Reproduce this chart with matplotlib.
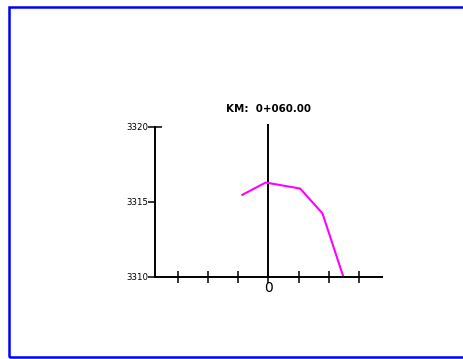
import matplotlib
matplotlib.use("Agg")
import matplotlib.pyplot as plt
from matplotlib.patches import Rectangle

# Section data (offset in m, elevation in m)
offsets = [-8.6, -0.9, 10.5, 17.9, 24.8]
elevations = [3315.47, 3316.29, 3315.89, 3314.23, 3310.0]

x_ticks = [-30, -20, -10, 0, 10, 20, 30]
x_tick_labels = ["", "", "", "0", "", "", ""]
y_ticks = [3310, 3315, 3320]
title = "KM:  0+060.00"

fig = plt.figure(figsize=(4.64, 3.59), dpi=100)

# blue frame round the sheet (cut off on the right)
fig.add_artist(Rectangle((9.5 / 464, 2 / 359), 1.0, 350.5 / 359,
                         transform=fig.transFigure, fill=False,
                         edgecolor="#0000ff", lw=1.8))

ax = fig.add_axes([155 / 464, (359 - 276.7) / 359, 226.7 / 464, 149.7 / 359])
ax.set_xlim(-37.5, 37.5)
ax.set_ylim(3310, 3320)

for s in ["top", "right"]:
    ax.spines[s].set_visible(False)
for s in ["left", "bottom"]:
    ax.spines[s].set_linewidth(1.4)

# centre line
ax.axvline(0, ymin=0, ymax=1.013, color="black", lw=1.4, clip_on=False)

ax.set_xticks(x_ticks)
ax.set_xticklabels(x_tick_labels, fontsize=10)
ax.tick_params(axis="x", direction="inout", length=9, width=1.1, pad=-1.5)

ax.set_yticks(y_ticks)
ax.set_yticklabels([str(v) for v in y_ticks], fontsize=6.2)
ax.tick_params(axis="y", direction="out", length=5, width=1.1, pad=0)
# top tick drawn as a "T"
top_tick = ax.yaxis.get_major_ticks()[-1]
top_tick.tick1line.set_marker("_")
top_tick.tick1line.set_markersize(10)

ax.plot(offsets, elevations, color="#ff00ff", lw=1.5)

ax.set_title(title, fontsize=7.4, fontweight="bold", pad=11)

fig.savefig("out.png", dpi=100)
